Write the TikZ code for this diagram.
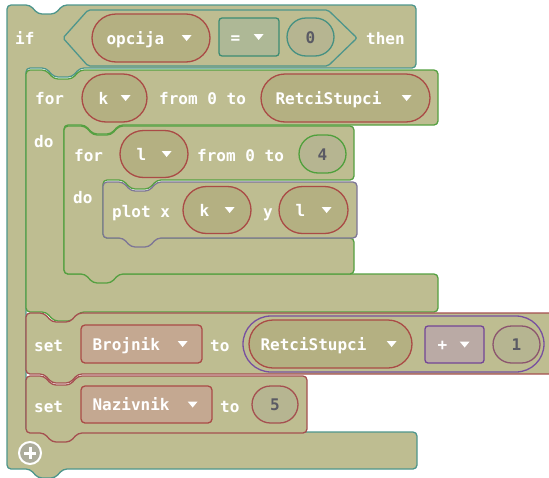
\documentclass[tikz,border=0pt]{standalone}
\usepackage{fontspec}
\setmonofont{DejaVu Sans Mono}
\definecolor{base}{RGB}{190,189,145}
\definecolor{ifc}{RGB}{78,150,140}
\definecolor{forc}{RGB}{85,160,65}
\definecolor{plotc}{RGB}{125,118,150}
\definecolor{setc}{RGB}{165,80,80}
\definecolor{varc}{RGB}{170,75,70}
\definecolor{varfill}{RGB}{180,176,130}
\definecolor{boxfill}{RGB}{196,168,145}
\definecolor{eqc}{RGB}{60,140,115}
\definecolor{eqfill}{RGB}{174,184,150}
\definecolor{zeroc}{RGB}{70,145,130}
\definecolor{fourc}{RGB}{80,160,60}
\definecolor{plusc}{RGB}{115,70,150}
\definecolor{plusfill}{RGB}{186,170,165}
\definecolor{onec}{RGB}{140,85,110}
\definecolor{mathc}{RGB}{120,80,160}
\definecolor{numfill}{RGB}{182,181,145}
\definecolor{numtext}{RGB}{90,90,100}
\definecolor{iconfill}{RGB}{172,172,155}
\newcommand\ddarrow[2]{\fill[white] ([xshift=-#2pt]#1.east) ++(-5,-3) -- ++(10,0) -- ++(-5,6) -- cycle;}
\begin{document}
\begin{tikzpicture}[x=1pt,y=-1pt,
  blk/.style={line width=1.3pt, fill=base, rounded corners=4pt},
  txt/.style={font=\ttfamily\bfseries\fontsize{16}{16}\selectfont, text=white, inner sep=0pt, text height=14pt, text depth=2pt},
  num/.style={font=\ttfamily\bfseries\fontsize{16}{16}\selectfont, text=numtext, text height=14pt, text depth=2pt},
  shp/.style={draw, line width=1.3pt, inner sep=0pt},
]
\useasboundingbox (0,0) rectangle (549,477);

% if block
\draw[blk, draw=ifc] (7,40) -- (7,5) -- (30,5) -- (38,14) -- (55,14) -- (63,5) -- (416,5) -- (416,68)
  -- (80,68) -- (72,77) -- (54,77) -- (46,68) -- (26,68) -- (26,432) -- (417,432) -- (417,469)
  -- (63,469) -- (55,478) -- (38,478) -- (30,469) -- (7,469) -- cycle;

% for k block
\draw[blk, draw=forc] (26,97) -- (26,70) -- (46,70) -- (54,79) -- (72,79) -- (80,70) -- (438,70) -- (438,125)
  -- (119,125) -- (111,134) -- (93,134) -- (85,125) -- (64,125) -- (64,274) -- (438,274) -- (438,312)
  -- (80,312) -- (72,321) -- (54,321) -- (46,312) -- (26,312) -- cycle;

% for l block
\draw[blk, draw=forc] (64,150) -- (64,126) -- (85,126) -- (93,135) -- (111,135) -- (119,126) -- (354,126) -- (354,180)
  -- (157,180) -- (149,189) -- (131,189) -- (123,180) -- (103,180) -- (103,238) -- (354,238) -- (354,274)
  -- (119,274) -- (111,283) -- (93,283) -- (85,274) -- (64,274) -- cycle;

% plot block
\draw[blk, draw=plotc] (103,210) -- (103,182) -- (123,182) -- (131,191) -- (149,191) -- (157,182) -- (357,182) -- (357,238)
  -- (157,238) -- (149,247) -- (131,247) -- (123,238) -- (103,238) -- cycle;

% set Brojnik block
\draw[blk, draw=setc] (26,343) -- (26,313) -- (44,313) -- (52,322) -- (70,322) -- (78,313) -- (570,313) -- (570,374)
  -- (78,374) -- (70,383) -- (52,383) -- (44,374) -- (26,374) -- cycle;

% set Nazivnik block
\draw[blk, draw=setc] (26,404) -- (26,376) -- (44,376) -- (52,385) -- (70,385) -- (78,376) -- (307,376) -- (307,433)
  -- (78,433) -- (70,442) -- (52,442) -- (44,433) -- (26,433) -- cycle;

% condition hexagon
\draw[line width=1.3pt, draw=ifc, fill=base, rounded corners=2pt] (63,38) -- (88,10) -- (328,10) -- (357,38) -- (328,66) -- (88,66) -- cycle;

% if row
\node[txt, anchor=west] (tif) at (15,38) {if};
\node[shp, draw=varc, fill=varfill, minimum width=118pt, minimum height=48pt, rounded corners=24pt] (opcija) at (151,38) {};
\node[txt, anchor=west] (topcija) at ([xshift=15pt]opcija.west) {opcija};
\ddarrow{opcija}{24}
\node[shp, draw=eqc, fill=eqfill, minimum width=60pt, minimum height=38pt, rounded corners=3pt] (eq) at (249,37) {};
\node[txt, anchor=west] (teq) at ([xshift=12pt]eq.west) {=};
\ddarrow{eq}{21}
\node[shp, draw=zeroc, fill=numfill, minimum width=47pt, minimum height=38pt, rounded corners=19pt, num] (zero) at (310.5,37) {0};
\node[txt, anchor=west] (tthen) at (366,38) {then};

% for k row
\node[txt, anchor=west] (tfor1) at (35,98) {for};
\node[shp, draw=varc, fill=varfill, minimum width=65pt, minimum height=48pt, rounded corners=24pt] (kvar) at (114.5,98) {};
\node[txt, anchor=west] (tk) at ([xshift=17pt]kvar.west) {k};
\ddarrow{kvar}{22}
\node[txt, anchor=west] (tfrom1) at (159,98) {from 0 to};
\node[shp, draw=varc, fill=varfill, minimum width=169pt, minimum height=48pt, rounded corners=24pt] (rs1) at (345.5,98) {};
\node[txt, anchor=west] (trs1) at ([xshift=15pt]rs1.west) {RetciStupci};
\ddarrow{rs1}{24}
\node[txt, anchor=west] (tdo1) at (34,141) {do};

% for l row
\node[txt, anchor=west] (tfor2) at (74,155) {for};
\node[shp, draw=varc, fill=varfill, minimum width=68pt, minimum height=47pt, rounded corners=23.5pt] (lvar) at (154,154) {};
\node[txt, anchor=west] (tl) at ([xshift=17pt]lvar.west) {l};
\ddarrow{lvar}{22}
\node[txt, anchor=west] (tfrom2) at (197,155) {from 0 to};
\node[shp, draw=fourc, fill=numfill, minimum width=47pt, minimum height=38pt, rounded corners=19pt, num] (four) at (322.5,154) {4};
\node[txt, anchor=west] (tdo2) at (73,197) {do};

% plot row
\node[txt, anchor=west] (tplot) at (112,211) {plot x};
\node[shp, draw=varc, fill=varfill, minimum width=68pt, minimum height=47pt, rounded corners=23.5pt] (kvar2) at (217,210) {};
\node[txt, anchor=west] (tk2) at ([xshift=17pt]kvar2.west) {k};
\ddarrow{kvar2}{22}
\node[txt, anchor=west] (ty) at (263,211) {y};
\node[shp, draw=varc, fill=varfill, minimum width=69pt, minimum height=47pt, rounded corners=23.5pt] (lvar2) at (313.5,210) {};
\node[txt, anchor=west] (tl2) at ([xshift=17pt]lvar2.west) {l};
\ddarrow{lvar2}{22}

% set Brojnik row
\node[txt, anchor=west] (tset1) at (34,345) {set};
\node[shp, draw=varc, fill=boxfill, minimum width=121pt, minimum height=38pt, rounded corners=4pt] (broj) at (141.5,344) {};
\node[txt, anchor=west] (tbroj) at ([xshift=12pt]broj.west) {Brojnik};
\ddarrow{broj}{20}
\node[txt, anchor=west] (tto1) at (210,345) {to};
\node[shp, draw=mathc, fill=base, minimum width=301pt, minimum height=56pt, rounded corners=28pt] (sum) at (393.5,344) {};
\node[shp, draw=varc, fill=varfill, minimum width=163pt, minimum height=48pt, rounded corners=24pt] (rs2) at (330.5,344) {};
\node[txt, anchor=west] (trs2) at ([xshift=12pt]rs2.west) {RetciStupci};
\ddarrow{rs2}{21}
\node[shp, draw=plusc, fill=plusfill, minimum width=59pt, minimum height=37pt, rounded corners=3pt] (plus) at (454.5,344.5) {};
\node[txt, anchor=west] (tplus) at ([xshift=13pt]plus.west) {+};
\ddarrow{plus}{20}
\node[shp, draw=onec, fill=numfill, minimum width=47pt, minimum height=37pt, rounded corners=18.5pt, num] (one) at (516.5,344.5) {1};

% set Nazivnik row
\node[txt, anchor=west] (tset2) at (34,406) {set};
\node[shp, draw=varc, fill=boxfill, minimum width=131pt, minimum height=37pt, rounded corners=4pt] (naz) at (146.5,404.5) {};
\node[txt, anchor=west] (tnaz) at ([xshift=12pt]naz.west) {Nazivnik};
\ddarrow{naz}{20}
\node[txt, anchor=west] (tto2) at (220,406) {to};
\node[shp, draw=setc, fill=numfill, minimum width=46pt, minimum height=37pt, rounded corners=18.5pt, num] (five) at (275,404.5) {5};

% plus icon
\draw[white, line width=2pt, fill=iconfill] (30,453) circle (11);
\draw[white, line width=3pt] (24,453) -- (36,453) (30,447) -- (30,459);
\end{tikzpicture}
\end{document}
